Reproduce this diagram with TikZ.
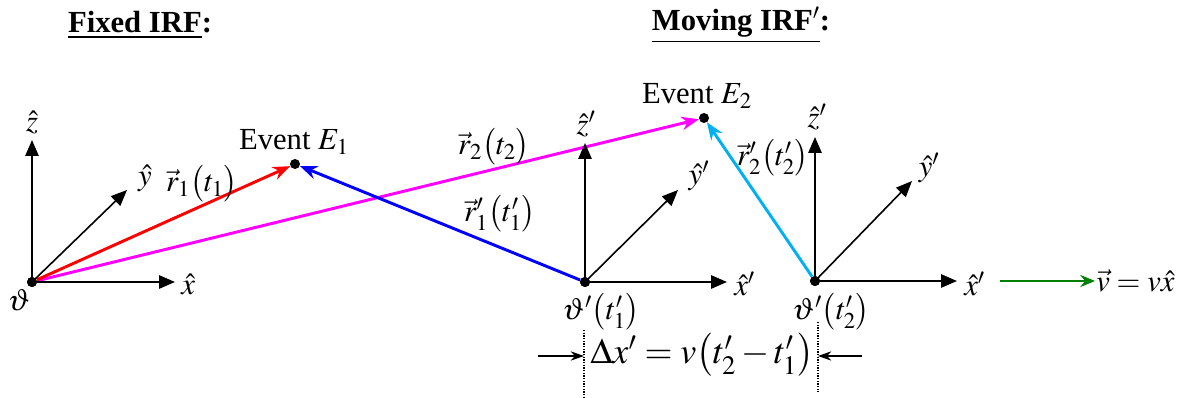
\documentclass[tikz,border=0pt]{standalone}
\usepackage{mathptmx}
\usepackage{fontspec}
\setmainfont{Liberation Serif}
\usetikzlibrary{arrows.meta,positioning}

\definecolor{vecred}{RGB}{255,0,0}
\definecolor{vecblue}{RGB}{0,0,255}
\definecolor{vecmag}{RGB}{255,0,255}
\definecolor{veccyan}{RGB}{0,176,240}
\definecolor{vecgreen}{RGB}{0,128,0}

\tikzset{
  dot/.style={circle,fill=black,inner sep=0pt,minimum size=7.5pt},
  axis/.style={line width=1.4pt,-{Triangle[length=12pt,width=10pt]}},
  diag/.style={line width=1.2pt,-{Triangle[length=12pt,width=10pt]}},
  posvec/.style={line width=2.2pt,-{Stealth[length=13pt,width=10pt]}},
  thinarrow/.style={line width=1pt,-{Stealth[length=10pt,width=7pt]}},
  lbl/.style={inner sep=0.75pt},
}

\begin{document}
\begin{tikzpicture}[x=0.75pt,y=0.75pt,yscale=-1,xscale=1,font=\fontsize{23}{27}\selectfont]
  \useasboundingbox (0,0) rectangle (1184,398);

  % Titles
  \node[lbl,font=\fontsize{23}{27}\selectfont\bfseries] (tfixed) at (140,25) {\underline{Fixed IRF}:};
  \node[lbl,font=\fontsize{23}{27}\selectfont\bfseries] (tmoving) at (741,25) {\underline{Moving IRF$'$}:};

  % Origins and events
  \node[dot] (O) at (32,282) {};
  \node[dot] (E1) at (295,164) {};
  \node[dot] (P1) at (585,282) {};
  \node[dot] (E2) at (704,118) {};
  \node[dot] (P2) at (815,281) {};

  % Axis tips
  \coordinate (Oz) at (32,140);
  \coordinate (Ox) at (175,282);
  \coordinate (Oy) at (127,190);
  \coordinate (P1z) at (585,143);
  \coordinate (P1x) at (727,282);
  \coordinate (P1y) at (678,190);
  \coordinate (P2z) at (815,137);
  \coordinate (P2x) at (957,281);
  \coordinate (P2y) at (912,181);

  % Position vectors
  \draw[posvec,vecmag] (O) -- (E2);
  \draw[posvec,vecred] (O) -- (E1);
  \draw[posvec,vecblue] (P1) -- (E1);
  \draw[posvec,veccyan] (P2) -- (E2);

  % Axes
  \draw[axis] (O.center) -- (Oz);
  \draw[axis] (O.center) -- (Ox);
  \draw[diag] (O.center) -- (Oy);
  \draw[axis] (P1.center) -- (P1z);
  \draw[axis] (P1.center) -- (P1x);
  \draw[diag] (P1.center) -- (P1y);
  \draw[axis] (P2.center) -- (P2z);
  \draw[axis] (P2.center) -- (P2x);
  \draw[diag] (P2.center) -- (P2y);
  \node[dot] at (O) {};
  \node[dot] at (P1) {};
  \node[dot] at (P2) {};

  % Axis labels
  \node[lbl] (Lz) at (32,122) {$\hat{z}$};
  \node[lbl,anchor=west] (Lx) at (180,284) {$\hat{x}$};
  \node[lbl] (Ly) at (145,178) {$\hat{y}$};
  \node[lbl] (LO) at (19,300) {$\vartheta$};
  \node[lbl] (Lz1) at (586,124) {$\hat{z}'$};
  \node[lbl] (Ly1) at (699,176) {$\hat{y}'$};
  \node[lbl,anchor=west] (Lx1) at (733,284) {$\hat{x}'$};
  \node[lbl] (LP1) at (601,312) {$\vartheta'\bigl(t_1'\bigr)$};
  \node[lbl] (Lz2) at (817,117) {$\hat{z}'$};
  \node[lbl] (Ly2) at (929,168) {$\hat{y}'$};
  \node[lbl,anchor=west] (Lx2) at (963,284) {$\hat{x}'$};
  \node[lbl] (LP2) at (831,312) {$\vartheta'\bigl(t_2'\bigr)$};

  % Event and vector labels
  \node[lbl] (LE1) at (294,142) {Event $E_1$};
  \node[lbl] (LE2) at (697,96) {Event $E_2$};
  \node[lbl] (Lr1) at (202,184) {$\vec{r}_1\bigl(t_1\bigr)$};
  \node[lbl] (Lr2) at (494,147) {$\vec{r}_2\bigl(t_2\bigr)$};
  \node[lbl] (Lr1p) at (500,214) {$\vec{r}_1'\bigl(t_1'\bigr)$};
  \node[lbl] (Lr2p) at (773,158) {$\vec{r}_2'\bigl(t_2'\bigr)$};

  % Velocity of moving frame
  \coordinate (vs) at (1000,281);
  \coordinate (ve) at (1095,281);
  \draw[line width=1.8pt,vecgreen,-{Stealth[length=11pt,width=9pt]}] (vs) -- (ve);
  \node[lbl,anchor=west] (Lv) at (ve) {$\vec{v}=v\hat{x}$};

  % Displacement of the moving origin
  \coordinate (d1a) at (584,330);
  \coordinate (d1b) at (584,398);
  \coordinate (d2a) at (818,322);
  \coordinate (d2b) at (818,392);
  \draw[line width=1pt,densely dotted] (d1a) -- (d1b);
  \draw[line width=1pt,densely dotted] (d2a) -- (d2b);
  \node[lbl,font=\fontsize{27}{32}\selectfont] (Ldx) at (702,355) {$\Delta x'=v\bigl(t_2'-t_1'\bigr)$};
  \coordinate (la) at (538,356);
  \coordinate (ra) at (862,356);
  \draw[thinarrow] (la) -- (d1a |- la);
  \draw[thinarrow] (ra) -- (d2a |- ra);
\end{tikzpicture}
\end{document}
